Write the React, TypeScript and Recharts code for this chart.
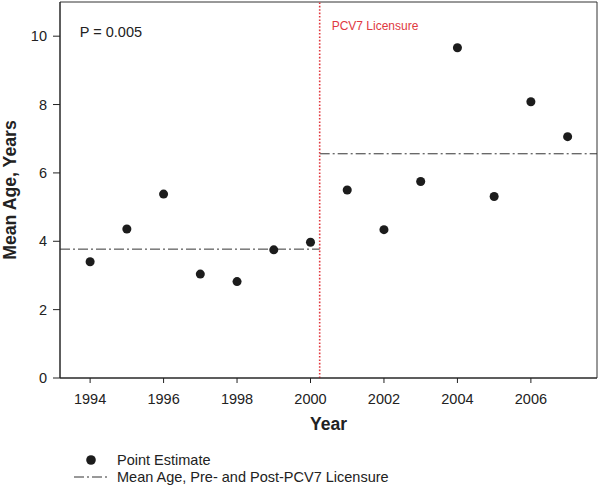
import {
  ScatterChart,
  Scatter,
  XAxis,
  YAxis,
  ZAxis,
  ReferenceLine,
  ReferenceArea,
  ReferenceDot,
  Legend,
  Label
} from 'recharts';

const years = [1994, 1995, 1996, 1997, 1998, 1999, 2000, 2001, 2002, 2003, 2004, 2005, 2006, 2007];
const meanAge = [3.40, 4.36, 5.38, 3.04, 2.82, 3.75, 3.97, 5.50, 4.34, 5.75, 9.66, 5.31, 8.08, 7.06];
const yearTicks = [1994, 1996, 1998, 2000, 2002, 2004, 2006];
const ageTicks = [0, 2, 4, 6, 8, 10];
const preMean = 3.77;
const postMean = 6.56;
const licensureYear = 2000.25;
const pValueText = 'P = 0.005';

const xDomain = [1993.18, 2007.8];
const yDomain = [0, 11];

const FONT = '"Liberation Sans", Arial, sans-serif';
const INK = '#222';
const RED = '#e0393f';

const points = years.map((year, i) => ({ year, age: meanAge[i] }));

const YTitle = (props: any) => {
  const vb = props.viewBox || {};
  const cy = vb.height ? vb.y + vb.height / 2 : 190;
  const cx = 10;
  return (
    <text
      x={cx}
      y={cy}
      transform={`rotate(-90 ${cx} ${cy})`}
      textAnchor="middle"
      dominantBaseline="central"
      fontFamily={FONT}
      fontWeight="bold"
      fontSize={17.7}
      fill={INK}
    >
      Mean Age, Years
    </text>
  );
};

const LicensureLabel = (props: any) => {
  const vb = props.viewBox || { x: 319, y: 2 };
  return (
    <text
      x={vb.x + 12}
      y={vb.y + 24}
      dominantBaseline="central"
      fontFamily={FONT}
      fontSize={12}
      fill={RED}
    >
      PCV7 Licensure
    </text>
  );
};

// legend is drawn by hand: a dot and a dash-dot sample
const LegendContent = () => (
  <svg width={600} height={35} style={{ display: 'block' }}>
    <circle cx={91} cy={9} r={4.8} fill="#1c1c1c" />
    <text x={117} y={9} dominantBaseline="central" fontFamily={FONT} fontSize={14.5} fill={INK}>
      Point Estimate
    </text>
    <line x1={74} x2={108} y1={26} y2={26} stroke="#333" strokeDasharray="10 3 2 3" />
    <text x={117} y={26} dominantBaseline="central" fontFamily={FONT} fontSize={14.5} fill={INK}>
      Mean Age, Pre- and Post-PCV7 Licensure
    </text>
  </svg>
);

const App = () => {
  return (
    <div style={{ position: 'absolute', left: 0, top: 0, width: 600, height: 485, background: '#fff' }}>
      <ScatterChart width={600} height={485} margin={{ top: 2, right: 3, left: 0, bottom: 42 }}>
        <XAxis
          type="number"
          dataKey="year"
          domain={xDomain}
          ticks={yearTicks}
          allowDataOverflow
          height={30}
          tickSize={5}
          tickMargin={11}
          axisLine={{ stroke: INK }}
          tickLine={{ stroke: INK }}
          tick={{ fill: INK, fontSize: 14.5, fontFamily: FONT }}
        >
          <Label
            value="Year"
            position="bottom"
            offset={10}
            fill={INK}
            fontSize={17.5}
            fontWeight="bold"
            fontFamily={FONT}
          />
        </XAxis>
        <YAxis
          type="number"
          dataKey="age"
          domain={yDomain}
          ticks={ageTicks}
          allowDataOverflow
          width={60}
          tickSize={7}
          tickMargin={6}
          axisLine={{ stroke: INK }}
          tickLine={{ stroke: INK }}
          tick={{ fill: INK, fontSize: 14.5, fontFamily: FONT }}
        >
          <Label content={<YTitle />} />
        </YAxis>
        <ZAxis type="number" range={[78, 78]} />
        <ReferenceArea
          x1={xDomain[0]}
          x2={xDomain[1]}
          y1={yDomain[0]}
          y2={yDomain[1]}
          fill="none"
          stroke="#333"
          strokeWidth={1}
        />
        <ReferenceLine
          segment={[
            { x: xDomain[0], y: preMean },
            { x: licensureYear, y: preMean }
          ]}
          stroke="#333"
          strokeDasharray="10 3 2 3"
        />
        <ReferenceLine
          segment={[
            { x: licensureYear, y: postMean },
            { x: xDomain[1], y: postMean }
          ]}
          stroke="#333"
          strokeDasharray="10 3 2 3"
        />
        <ReferenceLine
          x={licensureYear}
          stroke={RED}
          strokeWidth={1.6}
          strokeDasharray="1.6 1.8"
          label={<LicensureLabel />}
        />
        <ReferenceDot
          x={1993.72}
          y={10.12}
          r={0}
          fill="none"
          stroke="none"
          label={{
            value: pValueText,
            position: 'right',
            offset: 0,
            fill: INK,
            fontSize: 14.5,
            fontFamily: FONT
          }}
        />
        <Scatter data={points} fill="#1c1c1c" isAnimationActive={false} />
        <Legend
          content={<LegendContent />}
          wrapperStyle={{ position: 'absolute', left: 0, top: 451, width: 600, height: 35 }}
        />
      </ScatterChart>
    </div>
  );
};

export default App;
